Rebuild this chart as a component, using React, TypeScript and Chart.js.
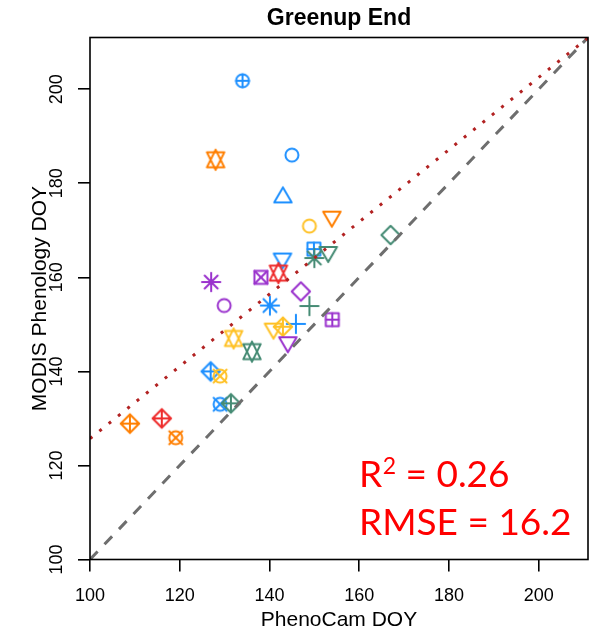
import React, { useEffect, useRef } from "react";
import { Chart, registerables } from "chart.js";
Chart.register(...registerables);

// ---- data ----
const phenocamDOY = [134.0, 128.0, 145.0, 143.0, 148.9, 153.9, 149.9, 150.0, 153.1, 167.0, 142.9, 142.0, 138.1, 127.0, 129.9, 140.1, 147.0, 148.9, 154.0, 145.9, 140.9, 143.0, 144.1, 132.0, 136.1, 126.9, 129.0, 129.0, 131.4, 108.9, 116.0, 119.1];
const modisDOY = [201.8, 185.0, 186.0, 177.0, 170.9, 172.9, 166.0, 164.1, 165.4, 169.0, 164.0, 160.9, 160.0, 159.0, 154.0, 154.0, 157.0, 153.9, 151.0, 150.1, 149.1, 149.5, 146.2, 147.0, 144.2, 140.0, 139.0, 133.0, 133.2, 128.9, 130.0, 125.9];
// site group (0 blue, 1 orange, 2 purple, 3 red, 4 green, 5 yellow)
const siteGroup = [0, 1, 0, 0, 5, 1, 0, 4, 4, 4, 0, 3, 2, 2, 2, 0, 2, 4, 2, 0, 5, 5, 2, 5, 4, 0, 5, 0, 4, 1, 3, 1];
// R plotting symbol code per site
const siteSymbol = [10, 11, 1, 2, 1, 6, 12, 8, 6, 5, 6, 11, 7, 8, 1, 8, 5, 3, 12, 3, 6, 9, 6, 11, 11, 9, 13, 13, 9, 9, 9, 13];
const tickValues = [100, 120, 140, 160, 180, 200];
const axisMin = 100;
const axisMax = 211;
const fitIntercept = 125.7;
const fitSlope = 0.768;
const r2Value = "0.26";
const rmseValue = "16.2";
const chartTitle = "Greenup End";
const xTitle = "PhenoCam DOY";
const yTitle = "MODIS Phenology DOY";

// ---- styles ----
const palette = ["#1E90FF", "#FF7F00", "#9A32CD", "#EE2C2C", "#458B74", "#FFC125"];
const FONT = "'Liberation Sans', Arial, sans-serif";

function makeSymbol(pch: number, color: string): HTMLCanvasElement {
  const size = 32;
  const cv = document.createElement("canvas");
  cv.width = size;
  cv.height = size;
  const g = cv.getContext("2d")!;
  const c = size / 2;
  const r0 = 6.5;
  const TRC0 = 1.5551, TRC1 = 1.3468, TRC2 = 0.7776, SQ2 = Math.SQRT2;
  g.strokeStyle = color;
  g.lineWidth = 2;
  g.lineJoin = "round";
  g.lineCap = "round";
  const line = (x1: number, y1: number, x2: number, y2: number) => {
    g.beginPath(); g.moveTo(c + x1, c + y1); g.lineTo(c + x2, c + y2); g.stroke();
  };
  const poly = (pts: number[][]) => {
    g.beginPath();
    pts.forEach((p, i) => (i ? g.lineTo(c + p[0], c + p[1]) : g.moveTo(c + p[0], c + p[1])));
    g.closePath(); g.stroke();
  };
  const circle = (r: number) => { g.beginPath(); g.arc(c, c, r, 0, Math.PI * 2); g.stroke(); };
  const square = (h: number) => poly([[-h, -h], [h, -h], [h, h], [-h, h]]);
  const plus = (h: number) => { line(-h, 0, h, 0); line(0, -h, 0, h); };
  const cross = (h: number) => { line(-h, -h, h, h); line(-h, h, h, -h); };
  const diamond = (h: number) => poly([[-h, 0], [0, -h], [h, 0], [0, h]]);
  const triUp = () => { const r = TRC0 * r0, yc = TRC2 * r0, xc = TRC1 * r0; poly([[0, -r], [xc, yc], [-xc, yc]]); };
  const triDown = () => { const r = TRC0 * r0, yc = TRC2 * r0, xc = TRC1 * r0; poly([[0, r], [xc, -yc], [-xc, -yc]]); };
  switch (pch) {
    case 1: circle(r0); break;
    case 2: triUp(); break;
    case 3: plus(SQ2 * r0); break;
    case 5: diamond(SQ2 * r0); break;
    case 6: triDown(); break;
    case 7: square(r0); cross(r0); break;
    case 8: cross(r0); plus(SQ2 * r0); break;
    case 9: diamond(SQ2 * r0); plus(SQ2 * r0); break;
    case 10: circle(r0); plus(r0); break;
    case 11: {
      const r = TRC0 * r0;
      const yc = 0.5 * (TRC2 * r0 + r);
      const xc = TRC1 * r0;
      poly([[0, r], [xc, -yc], [-xc, -yc]]);
      poly([[0, -r], [xc, yc], [-xc, yc]]);
      break;
    }
    case 12: square(r0); plus(r0); break;
    case 13: circle(r0); cross(r0); break;
    default: circle(r0);
  }
  return cv;
}

const textPlugin = {
  id: "rtext",
  afterDraw(chart: any) {
    const { ctx, chartArea: ca } = chart;
    ctx.save();
    // box
    ctx.strokeStyle = "#000";
    ctx.lineWidth = 1.6;
    ctx.strokeRect(ca.left, ca.top, ca.right - ca.left, ca.bottom - ca.top);
    ctx.fillStyle = "#000";
    const cx = (ca.left + ca.right) / 2;
    const cy = (ca.top + ca.bottom) / 2;
    // title
    ctx.font = `bold 23px ${FONT}`;
    ctx.textAlign = "center";
    ctx.textBaseline = "alphabetic";
    ctx.fillText(chartTitle, cx, 25);
    // x title
    ctx.font = `21px ${FONT}`;
    ctx.fillText(xTitle, cx, 626);
    // y title
    ctx.save();
    ctx.translate(46, cy);
    ctx.rotate(-Math.PI / 2);
    ctx.fillText(yTitle, 0, 0);
    ctx.restore();
    // y tick labels (rotated like R)
    const ys = chart.scales.y;
    ctx.font = `18px ${FONT}`;
    ys.ticks.forEach((t: any) => {
      const py = ys.getPixelForValue(t.value);
      ctx.save();
      ctx.translate(62, py);
      ctx.rotate(-Math.PI / 2);
      ctx.fillText(String(t.value), 0, 0);
      ctx.restore();
    });
    // annotation
    ctx.fillStyle = "#FF0000";
    ctx.textAlign = "left";
    const big = "37px Lato, 'Liberation Sans', sans-serif";
    const small = "23px Lato, 'Liberation Sans', sans-serif";
    let x = 359;
    ctx.font = big;
    ctx.fillText("R", x, 487);
    x += ctx.measureText("R").width + 0.5;
    ctx.font = small;
    ctx.fillText("2", x, 474);
    x += ctx.measureText("2").width;
    ctx.font = big;
    ctx.fillText(" = " + r2Value, x, 487);
    ctx.fillText("RMSE = " + rmseValue, 359, 535);
    ctx.restore();
  },
};

export default function App() {
  const ref = useRef<HTMLCanvasElement | null>(null);
  useEffect(() => {
    if (!ref.current) return;
    const points = phenocamDOY.map((x, i) => ({ x, y: modisDOY[i] }));
    const styles = siteSymbol.map((p, i) => makeSymbol(p, palette[siteGroup[i]]));
    const fitLine = [axisMin, axisMax].map((x) => ({ x, y: fitIntercept + fitSlope * (x - axisMin) }));
    const oneToOne = [axisMin, axisMax].map((v) => ({ x: v, y: v }));
    const chart = new Chart(ref.current, {
      type: "scatter",
      data: {
        datasets: [
          {
            data: fitLine,
            showLine: true,
            borderColor: "#B22222",
            borderWidth: 3,
            borderDash: [3, 9],
            borderCapStyle: "butt",
            pointRadius: 0,
            clip: 0,
          } as any,
          {
            data: oneToOne,
            showLine: true,
            borderColor: "#6E6E6E",
            borderWidth: 3,
            borderDash: [11, 10],
            borderCapStyle: "butt",
            pointRadius: 0,
            clip: 0,
          } as any,
          {
            data: points,
            pointStyle: styles as any,
            pointRadius: 6,
            pointHoverRadius: 6,
            clip: 20,
          } as any,
        ],
      },
      options: {
        responsive: false,
        animation: false,
        devicePixelRatio: 1,
        events: [],
        layout: { padding: { left: 0, right: 8, top: 37.5, bottom: 0 } },
        plugins: { legend: { display: false }, tooltip: { enabled: false }, title: { display: false } },
        scales: {
          x: {
            type: "linear",
            min: axisMin,
            max: axisMax,
            afterBuildTicks: (s: any) => { s.ticks = tickValues.map((v) => ({ value: v })); },
            afterFit: (s: any) => { s.height = 71.5; },
            ticks: {
              color: "#000",
              font: { family: FONT, size: 18 },
              padding: 13.5,
              maxRotation: 0,
              autoSkip: false,
              callback: (v: any) => String(v),
            },
            grid: { drawOnChartArea: false, drawTicks: true, tickLength: 12, color: "#000", lineWidth: 1.6 },
            border: { display: false },
          },
          y: {
            type: "linear",
            min: axisMin,
            max: axisMax,
            afterBuildTicks: (s: any) => { s.ticks = tickValues.map((v) => ({ value: v })); },
            afterFit: (s: any) => { s.width = 90; },
            ticks: { display: false },
            grid: { drawOnChartArea: false, drawTicks: true, tickLength: 12, color: "#000", lineWidth: 1.6 },
            border: { display: false },
          },
        },
      } as any,
      plugins: [textPlugin],
    });
    return () => chart.destroy();
  }, []);
  return (
    <div style={{ position: "absolute", left: 0, top: 0, width: 596, height: 631, background: "#fff" }}>
      <canvas ref={ref} width={596} height={631} style={{ display: "block" }} />
    </div>
  );
}
